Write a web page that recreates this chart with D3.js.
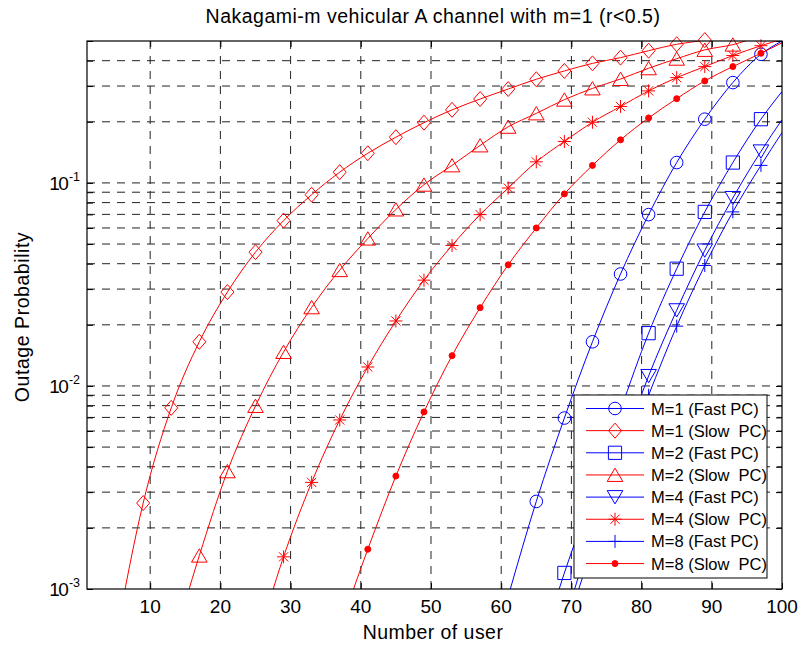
<!DOCTYPE html>
<html>
<head>
<meta charset="utf-8">
<script src="https://d3js.org/d3.v7.min.js"></script>
<style>
body { margin: 0; background: #fff; }
text { font-family: "Liberation Sans", Arial, Helvetica, sans-serif; fill: #000; }
</style>
</head>
<body>
<div id="chart"></div>
<script>
// number of users where the curves were sampled (marker every 4 users, last point = 100)
var users = [5, 9, 13, 17, 21, 25, 29, 33, 37, 41, 45, 49, 53, 57, 61, 65, 69, 73, 77, 81, 85, 89, 93, 97, 100];

// outage probability per series (null = not plotted)
var m1Slow = [5.5e-4, 2.65e-3, 7.8e-3, 0.0165, 0.029, 0.0456, 0.0652, 0.0875, 0.113, 0.140, 0.168, 0.198, 0.229, 0.259, 0.290, 0.324, 0.356, 0.388, 0.414, 0.448, 0.482, 0.505, 0.54, null, null];
var m2Slow = [null, null, 5e-4, 1.46e-3, 3.8e-3, 7.97e-3, 0.0147, 0.0244, 0.0372, 0.0532, 0.074, 0.098, 0.122, 0.153, 0.189, 0.220, 0.257, 0.292, 0.325, 0.367, 0.409, 0.452, 0.48, 0.53, null];
var m4Slow = [null, null, null, null, null, 5.1e-4, 1.44e-3, 3.35e-3, 6.8e-3, 0.0124, 0.0209, 0.0332, 0.0492, 0.0698, 0.0944, 0.127, 0.160, 0.199, 0.238, 0.284, 0.330, 0.374, 0.424, 0.474, 0.51];
var m8Slow = [null, null, null, null, null, null, null, null, 6.4e-4, 1.57e-3, 3.6e-3, 7.45e-3, 0.0141, 0.0243, 0.0395, 0.060, 0.0883, 0.122, 0.163, 0.209, 0.260, 0.318, 0.374, 0.435, 0.49];
var m1Fast = [null, null, null, null, null, null, null, null, null, null, null, null, null, null, 9.2e-4, 2.7e-3, 6.95e-3, 0.0165, 0.0356, 0.0698, 0.126, 0.206, 0.312, 0.43, 0.50];
var m2Fast = [null, null, null, null, null, null, null, null, null, null, null, null, null, null, null, 4.3e-4, 1.2e-3, 2.95e-3, 7.6e-3, 0.0182, 0.0378, 0.072, 0.126, 0.206, 0.282];
var m4Fast = [null, null, null, null, null, null, null, null, null, null, null, null, null, null, null, null, 6.8e-4, 1.9e-3, 4.7e-3, 0.0112, 0.0236, 0.0465, 0.0843, 0.143, 0.205];
var m8Fast = [null, null, null, null, null, null, null, null, null, null, null, null, null, null, null, null, 6e-4, 1.6e-3, 3.9e-3, 9.0e-3, 0.0197, 0.0392, 0.072, 0.122, 0.177];

var legendLabels = ["M=1 (Fast PC)", "M=1 (Slow  PC)", "M=2 (Fast PC)", "M=2 (Slow  PC)",
                    "M=4 (Fast PC)", "M=4 (Slow  PC)", "M=8 (Fast PC)", "M=8 (Slow  PC)"];
var xTicks = [10, 20, 30, 40, 50, 60, 70, 80, 90, 100];
var yDecades = [1e-3, 1e-2, 1e-1];

var series = [
  {values: m1Fast, color: "#0000ff", marker: "circle"},
  {values: m1Slow, color: "#ff0000", marker: "diamond"},
  {values: m2Fast, color: "#0000ff", marker: "square"},
  {values: m2Slow, color: "#ff0000", marker: "triangleUp"},
  {values: m4Fast, color: "#0000ff", marker: "triangleDown"},
  {values: m4Slow, color: "#ff0000", marker: "asterisk"},
  {values: m8Fast, color: "#0000ff", marker: "plus"},
  {values: m8Slow, color: "#ff0000", marker: "dot"}
];

var margin = {top: 41, right: 20, bottom: 58, left: 87},
    width = 802 - margin.left - margin.right,
    height = 647 - margin.top - margin.bottom;

var svg = d3.select("#chart")
  .append("svg")
  .attr("width", 802)
  .attr("height", 647);

var g = svg.append("g")
  .attr("transform", "translate(" + margin.left + "," + margin.top + ")");

var x = d3.scaleLinear().domain([1, 100]).range([0, width]);
var y = d3.scaleLog().domain([1e-3, 0.5]).range([height, 0]);

// minor values for the log grid (every 1..9 of each decade)
var yGrid = [];
yDecades.forEach(function(d) {
  for (var k = 1; k < 10; k++) {
    var v = d * k;
    if (v <= 0.5) yGrid.push(v);
  }
});

// grid
g.append("g").selectAll("line")
  .data(xTicks.filter(function(d) { return d < 100; }))
  .enter().append("line")
    .attr("x1", function(d) { return x(d); })
    .attr("x2", function(d) { return x(d); })
    .attr("y1", 0).attr("y2", height)
    .style("stroke", "#222")
    .style("stroke-dasharray", "8,7");

g.append("g").selectAll("line")
  .data(yGrid.filter(function(d) { return d > 1e-3 && d < 0.5; }))
  .enter().append("line")
    .attr("x1", 0).attr("x2", width)
    .attr("y1", function(d) { return y(d); })
    .attr("y2", function(d) { return y(d); })
    .style("stroke", "#222")
    .style("stroke-dasharray", "8,7");

// axes with inward ticks
g.append("g")
  .attr("transform", "translate(0," + height + ")")
  .call(d3.axisBottom(x).tickValues(xTicks).tickSize(-6).tickFormat(""))
  .call(function(a) { a.select(".domain").remove(); });
g.append("g")
  .call(d3.axisTop(x).tickValues(xTicks).tickSize(-6).tickFormat(""))
  .call(function(a) { a.select(".domain").remove(); });
g.append("g")
  .call(d3.axisLeft(y).tickValues(yGrid).tickSize(-6).tickFormat(""))
  .call(function(a) { a.select(".domain").remove(); });
g.append("g")
  .attr("transform", "translate(" + width + ",0)")
  .call(d3.axisRight(y).tickValues(yGrid).tickSize(-6).tickFormat(""))
  .call(function(a) { a.select(".domain").remove(); });

// tick labels
g.append("g").selectAll("text")
  .data(xTicks)
  .enter().append("text")
    .attr("x", function(d) { return x(d); })
    .attr("y", height + 24)
    .attr("text-anchor", "middle")
    .style("font-size", "19px")
    .text(function(d) { return d; });

var yl = g.append("g").selectAll("text")
  .data(yDecades)
  .enter().append("text")
    .attr("x", -7)
    .attr("y", function(d) { return y(d) + 7; })
    .attr("text-anchor", "end")
    .style("font-size", "19px");
yl.append("tspan").style("letter-spacing", "-1.5px").text("10");
yl.append("tspan")
  .attr("dx", 1.5)
  .attr("dy", -9)
  .style("font-size", "12.5px")
  .text(function(d) { return Math.round(Math.log10(d)); });

// curves
g.append("clipPath").attr("id", "clip")
  .append("rect").attr("width", width).attr("height", height);

var line = d3.line()
  .defined(function(d) { return d.v != null; })
  .x(function(d) { return x(d.u); })
  .y(function(d) { return y(d.v); })
  .curve(d3.curveMonotoneX);

function points(s) {
  return users.map(function(u, i) { return {u: u, v: s.values[i]}; });
}

// marker shapes
function markerPath(type) {
  var p = d3.path();
  if (type == "circle") {
    p.moveTo(6.3, 0); p.arc(0, 0, 6.3, 0, 2 * Math.PI);
  } else if (type == "dot") {
    p.moveTo(3, 0); p.arc(0, 0, 3, 0, 2 * Math.PI);
  } else if (type == "diamond") {
    p.moveTo(0, -7.5); p.lineTo(6.5, 0); p.lineTo(0, 7.5); p.lineTo(-6.5, 0); p.closePath();
  } else if (type == "square") {
    p.rect(-6.6, -6.6, 13.2, 13.2);
  } else if (type == "triangleUp") {
    p.moveTo(0, -6.8); p.lineTo(7.8, 6.5); p.lineTo(-7.8, 6.5); p.closePath();
  } else if (type == "triangleDown") {
    p.moveTo(0, 6.8); p.lineTo(7.8, -6.5); p.lineTo(-7.8, -6.5); p.closePath();
  } else if (type == "plus") {
    p.moveTo(-6.5, 0); p.lineTo(6.5, 0); p.moveTo(0, -6.5); p.lineTo(0, 6.5);
  } else if (type == "asterisk") {
    var r = 6.5, q = 4.6;
    p.moveTo(-r, 0); p.lineTo(r, 0); p.moveTo(0, -r); p.lineTo(0, r);
    p.moveTo(-q, -q); p.lineTo(q, q); p.moveTo(-q, q); p.lineTo(q, -q);
  }
  return p.toString();
}

var curves = g.append("g");
series.forEach(function(s) {
  curves.append("path")
    .datum(points(s))
    .attr("clip-path", "url(#clip)")
    .attr("d", line)
    .style("fill", "none")
    .style("stroke", s.color)
    .style("stroke-width", 1);

  curves.append("g").selectAll("path")
    .data(points(s).filter(function(d) {
      return d.v != null && d.u % 4 == 1 && d.v >= 9.8e-4 && d.v <= 0.51;
    }))
    .enter().append("path")
      .attr("transform", function(d) { return "translate(" + x(d.u) + "," + y(d.v) + ")"; })
      .attr("d", markerPath(s.marker))
      .style("fill", s.marker == "dot" ? s.color : "none")
      .style("stroke", s.color)
      .style("stroke-width", 1);
});

// box
g.append("rect")
  .attr("width", width).attr("height", height)
  .style("fill", "none").style("stroke", "#000").style("stroke-width", 1.2);

// legend
var lg = g.append("g").attr("transform", "translate(" + (574 - margin.left) + "," + (395 - margin.top) + ")");
lg.append("rect")
  .attr("width", 193).attr("height", 183)
  .style("fill", "#fff").style("stroke", "#000").style("stroke-width", 1);
series.forEach(function(s, i) {
  var row = lg.append("g").attr("transform", "translate(0," + (13.5 + i * 22.15) + ")");
  row.append("line")
    .attr("x1", 12).attr("x2", 70)
    .style("stroke", s.color).style("stroke-width", 1);
  row.append("path")
    .attr("transform", "translate(41,0)")
    .attr("d", markerPath(s.marker))
    .style("fill", s.marker == "dot" ? s.color : "none")
    .style("stroke", s.color);
  row.append("text")
    .attr("x", 77).attr("y", 6)
    .style("font-size", "16.5px")
    .style("white-space", "pre")
    .text(legendLabels[i]);
});

// title and axis labels
svg.append("text")
  .attr("x", 433).attr("y", 23)
  .attr("text-anchor", "middle")
  .style("font-size", "19.5px")
  .style("letter-spacing", "0.5px")
  .text("Nakagami-m vehicular A channel with m=1 (r<0.5)");

svg.append("text")
  .attr("x", 433).attr("y", 639)
  .attr("text-anchor", "middle")
  .style("font-size", "19.5px")
  .style("letter-spacing", "0.45px")
  .text("Number of user");

svg.append("text")
  .attr("transform", "translate(29,317) rotate(-90)")
  .attr("text-anchor", "middle")
  .style("font-size", "19.5px")
  .style("letter-spacing", "0.55px")
  .text("Outage Probability");
</script>
</body>
</html>
